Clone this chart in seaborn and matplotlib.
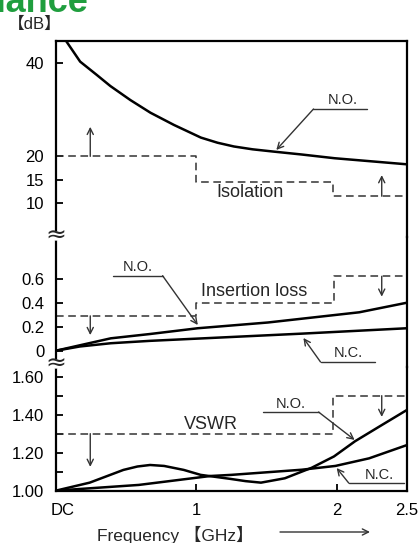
import matplotlib
matplotlib.use('Agg')
import matplotlib.pyplot as plt
import matplotlib.transforms as mtrans
from matplotlib.lines import Line2D
import seaborn as sns

# Valores
freq_ticks = [0, 1, 2, 2.5]
freq_tick_labels = ['DC', '1', '2', '2.5']

# Isolation [dB]
iso_ticks = [10, 15, 20, 40]
iso_no_x = [0.03, 0.072, 0.172, 0.291, 0.387, 0.53, 0.673, 0.84, 1.032, 1.151, 1.268,
            1.40, 1.554, 1.748, 1.984, 2.5]
iso_no_y = [46.8, 44.6, 40.2, 37.35, 35.0, 32.0, 29.3, 26.7, 24.0, 22.9, 22.1,
            21.5, 21.0, 20.4, 19.6, 18.3]
iso_spec_x = [0, 1.0, 1.0, 1.97, 1.97, 2.5]
iso_spec_y = [20, 20, 14.5, 14.5, 11.5, 11.5]
iso_arrows = [(0.244, 20, 26.3), (2.32, 11.5, 16.0)]

# Insertion loss [dB]
il_ticks = [0, 0.2, 0.4, 0.6]
il_tick_labels = ['0', '0.2', '0.4', '0.6']
il_no_x = [0, 0.17, 0.39, 0.67, 1.01, 1.51, 2.16, 2.5]
il_no_y = [0, 0.045, 0.103, 0.139, 0.187, 0.235, 0.32, 0.40]
il_nc_x = [0, 0.17, 0.39, 0.67, 1.05, 1.75, 2.5]
il_nc_y = [0, 0.035, 0.062, 0.082, 0.103, 0.142, 0.187]
il_spec_x = [0, 1.0, 1.0, 1.98, 1.98, 2.5]
il_spec_y = [0.29, 0.29, 0.40, 0.40, 0.62, 0.62]
il_arrows = [(0.244, 0.29, 0.13), (2.32, 0.62, 0.45)]

# VSWR
vs_ticks = [1.0, 1.2, 1.4, 1.6]
vs_tick_labels = ['1.00', '1.20', '1.40', '1.60']
vs_minor = [1.1, 1.3, 1.5]
vs_no_x = [0, 0.24, 0.48, 0.58, 0.67, 0.77, 0.91, 1.03, 1.24, 1.35, 1.46, 1.63,
           1.82, 1.98, 2.13, 2.32, 2.5]
vs_no_y = [1.0, 1.042, 1.109, 1.127, 1.135, 1.13, 1.109, 1.083, 1.062, 1.05, 1.042,
           1.065, 1.12, 1.18, 1.26, 1.345, 1.425]
vs_nc_x = [0, 0.59, 1.1, 1.25, 1.75, 1.99, 2.23, 2.5]
vs_nc_y = [1.0, 1.03, 1.077, 1.083, 1.11, 1.13, 1.17, 1.24]
vs_spec_x = [0, 1.97, 1.97, 2.5]
vs_spec_y = [1.3, 1.3, 1.5, 1.5]
vs_arrows = [(0.244, 1.3, 1.125), (2.32, 1.5, 1.388)]

sns.set_style('white')
plt.rcParams['font.family'] = ['Liberation Sans', 'Noto Sans CJK JP', 'DejaVu Sans']
plt.rcParams['lines.solid_joinstyle'] = 'round'

W, H = 419, 543
fig = plt.figure(figsize=(W / 100, H / 100), dpi=100)


def fx(px):
    return px / W


def fy(py):
    return 1 - py / H


ax_iso = fig.add_axes([fx(56), fy(237), 351 / W, 196 / H])
ax_il = fig.add_axes([fx(56), fy(367), 351 / W, 130 / H])
ax_vs = fig.add_axes([fx(56), fy(491), 351 / W, 124 / H])

DARK = '#333333'


def curve(ax, x, y):
    sns.lineplot(x=x, y=y, ax=ax, color='black', lw=1.8, estimator=None,
                 sort=False, legend=False)


def spec(ax, x, y):
    sns.lineplot(x=x, y=y, ax=ax, color=DARK, lw=1.1, estimator=None,
                 sort=False, legend=False, linestyle=(0, (5, 3)))


def limit_arrows(ax, arrows):
    for x, y0, y1 in arrows:
        ax.annotate('', xy=(x, y1), xytext=(x, y0),
                    arrowprops=dict(arrowstyle='->', lw=1, color=DARK,
                                    shrinkA=0, shrinkB=0, mutation_scale=11))


def callout(ax, text, tx, ty, ux0, ux1, uy, hx, hy, from_left=True):
    ax.plot([ux0, ux1], [uy, uy], color=DARK, lw=1, clip_on=False)
    ax.text(tx, ty, text, ha='center', va='center', fontsize=10.5, clip_on=False)
    sx = ux0 if from_left else ux1
    ax.annotate('', xy=(hx, hy), xytext=(sx, uy),
                arrowprops=dict(arrowstyle='->', lw=1, color=DARK,
                                shrinkA=0, shrinkB=0, mutation_scale=11))


# Isolation
curve(ax_iso, iso_no_x, iso_no_y)
spec(ax_iso, iso_spec_x, iso_spec_y)
limit_arrows(ax_iso, iso_arrows)
callout(ax_iso, 'N.O.', 2.04, 32.0, 1.834, 2.213, 30.1, 1.569, 21.36)
ax_iso.text(1.14, 12.2, 'Isolation', ha='left', va='center', fontsize=13)
ax_iso.set_ylim(2.8, 44.6)
ax_iso.set_yticks(iso_ticks)

# Insertion loss
curve(ax_il, il_no_x, il_no_y)
curve(ax_il, il_nc_x, il_nc_y)
spec(ax_il, il_spec_x, il_spec_y)
limit_arrows(ax_il, il_arrows)
callout(ax_il, 'N.O.', 0.58, 0.70, 0.408, 0.759, 0.625, 1.01, 0.214, from_left=False)
callout(ax_il, 'N.C.', 2.085, -0.02, 1.884, 2.27, -0.094, 1.762, 0.106)
ax_il.text(1.03, 0.49, 'Insertion loss', ha='left', va='center', fontsize=13)
ax_il.set_ylim(-0.136, 0.9475)
ax_il.set_yticks(il_ticks, il_tick_labels)

# VSWR
curve(ax_vs, vs_no_x, vs_no_y)
curve(ax_vs, vs_nc_x, vs_nc_y)
spec(ax_vs, vs_spec_x, vs_spec_y)
limit_arrows(ax_vs, vs_arrows)
callout(ax_vs, 'N.O.', 1.669, 1.456, 1.476, 1.870, 1.414, 2.127, 1.267, from_left=False)
callout(ax_vs, 'N.C.', 2.30, 1.083, 2.085, 2.479, 1.04, 1.999, 1.119)
ax_vs.text(0.91, 1.346, 'VSWR', ha='left', va='center', fontsize=13)
ax_vs.set_ylim(0.998, 1.651)
ax_vs.set_yticks(vs_ticks, vs_tick_labels)
ax_vs.set_yticks(vs_minor, minor=True)

for ax in (ax_iso, ax_il, ax_vs):
    ax.set_xlim(0, 2.5)
    ax.set_facecolor('none')
    ax.set_xlabel('')
    ax.set_ylabel('')
    for s in ax.spines.values():
        s.set_linewidth(1.6)
        s.set_color('black')
    ax.tick_params(which='both', direction='in', length=5, width=1.3,
                   labelsize=12, pad=8.5, colors='black', left=True, bottom=True)

ax_iso.spines['bottom'].set_visible(False)
ax_il.spines['top'].set_visible(False)
ax_il.spines['bottom'].set_visible(False)
ax_vs.spines['top'].set_visible(False)
ax_iso.set_xticks([])
ax_il.set_xticks([])
ax_vs.set_xticks(freq_ticks, freq_tick_labels)

# "DC" um pouco para a direita
dc = ax_vs.get_xticklabels()[0]
dc.set_transform(dc.get_transform() + mtrans.ScaledTranslation(0.07, 0, fig.dpi_scale_trans))

# Quebras do eixo (≈)
for py in (236, 364):
    fig.add_artist(Line2D([fx(56), fx(56)], [fy(py - 2), fy(py + 2)],
                          transform=fig.transFigure, color='white', lw=4, zorder=10))
    fig.text(fx(56), fy(py), '≈', ha='center', va='center', fontsize=18,
             family='DejaVu Sans', zorder=11)

# Textos externos
fig.text(fx(88), fy(12), 'Performance', ha='right', va='baseline',
         fontsize=26, weight='bold', color='#1f9e3e')
fig.text(fx(8), fy(24), '【dB】', ha='left', va='center', fontsize=12)
fig.text(fx(97), fy(535), 'Frequency 【GHz】', ha='left', va='center', fontsize=12.5)
ax_vs.annotate('', xy=(fx(370), fy(532)), xytext=(fx(280), fy(532)),
               xycoords='figure fraction', textcoords='figure fraction',
               arrowprops=dict(arrowstyle='->', lw=1, color=DARK,
                               shrinkA=0, shrinkB=0, mutation_scale=11))

fig.savefig('out.png', dpi=100)
